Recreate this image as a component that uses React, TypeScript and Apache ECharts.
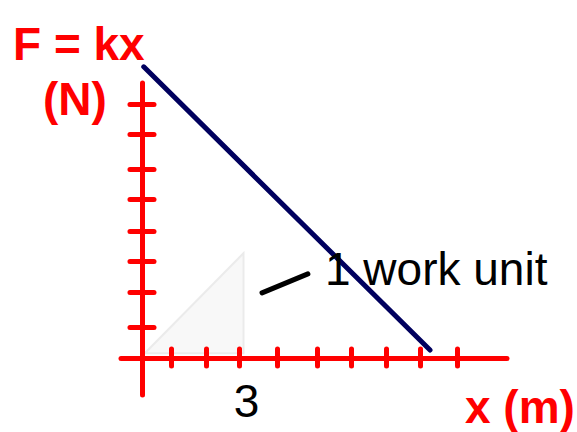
import React, { useEffect, useRef } from "react";
import * as echarts from "echarts";

// Tick positions on the axes
const xTicks = [0.83, 1.83, 2.77, 3.86, 5.0, 5.97, 6.97, 7.94, 9.0];
const yTicks = [0.98, 2.08, 3.06, 4.0, 5.01, 5.95, 7.06, 8.0];

// Axis extents (data units)
const xRange = [-0.6, 10.43];
const yRange = [-1.165, 8.66];

// F = kx line (x in m, F in N)
const forceX = [0.05, 8.23];
const forceY = [9.17, 0.25];

// shaded "work" triangle
const triX = [0.08, 2.9, 2.9];
const triY = [0.15, 3.3, 0.15];

// pointer to the "1 work unit" label
const pointerX = [3.43, 4.74];
const pointerY = [2.05, 2.65];

// texts
const yTitle = "F = kx";
const yUnit = "(N)";
const xTitle = "x (m)";
const tickLabel = "3";
const annotation = "1 work unit";

const RED = "#ff0000";
const FONT = "'Liberation Sans', Arial, sans-serif";

export default function App() {
  const ref = useRef<HTMLDivElement>(null);

  useEffect(() => {
    document.body.style.margin = "0";
    const chart = echarts.init(ref.current!, null, { renderer: "svg" });

    const axisCommon = (min: number, max: number) => ({
      type: "value" as const,
      min,
      max,
      splitLine: { show: false },
      axisLabel: { show: false },
    });

    const tickStyle = { color: RED, width: 5, cap: "round" };

    const option: any = {
      animation: false,
      backgroundColor: "#ffffff",
      grid: { left: 121, right: 70, top: 83, bottom: 37, containLabel: false },
      xAxis: [
        {
          ...axisCommon(xRange[0], xRange[1]),
          position: "bottom",
          axisLine: {
            show: true,
            onZero: true,
            onZeroAxisIndex: 0,
            lineStyle: { color: RED, width: 5, cap: "round" },
          },
          axisTick: {
            show: true,
            inside: true,
            length: 9,
            customValues: xTicks,
            lineStyle: tickStyle,
          },
        },
        {
          ...axisCommon(xRange[0], xRange[1]),
          position: "bottom",
          axisLine: { show: false, onZero: true, onZeroAxisIndex: 0 },
          axisTick: {
            show: true,
            inside: false,
            length: 8,
            customValues: xTicks,
            lineStyle: tickStyle,
          },
        },
      ],
      yAxis: [
        {
          ...axisCommon(yRange[0], yRange[1]),
          position: "left",
          axisLine: {
            show: true,
            onZero: true,
            onZeroAxisIndex: 0,
            lineStyle: { color: RED, width: 5, cap: "round" },
          },
          axisTick: {
            show: true,
            inside: true,
            length: 12,
            customValues: yTicks,
            lineStyle: tickStyle,
          },
        },
        {
          ...axisCommon(yRange[0], yRange[1]),
          position: "left",
          axisLine: { show: false, onZero: true, onZeroAxisIndex: 0 },
          axisTick: {
            show: true,
            inside: false,
            length: 12,
            customValues: yTicks,
            lineStyle: tickStyle,
          },
        },
      ],
      series: [
        {
          type: "custom",
          z: -1,
          clip: false,
          renderItem: (_params: any, api: any) => {
            const pts = triX.map((x, i) => api.coord([x, triY[i]]));
            return {
              type: "polygon",
              shape: { points: pts },
              style: { fill: "#f8f8f8", stroke: "#ebebeb", lineWidth: 2 },
            };
          },
          data: [[0, 0]],
        },
        {
          type: "line",
          data: forceX.map((x, i) => [x, forceY[i]]),
          symbol: "none",
          clip: false,
          z: 5,
          lineStyle: { color: "#00005e", width: 5, cap: "round" },
        },
        {
          type: "line",
          data: pointerX.map((x, i) => [x, pointerY[i]]),
          symbol: "none",
          clip: false,
          z: 5,
          lineStyle: { color: "#000000", width: 5, cap: "round" },
        },
      ],
      graphic: [
        {
          type: "text",
          x: 13,
          y: 44,
          style: {
            text: yTitle,
            fill: RED,
            font: `bold 46px ${FONT}`,
            verticalAlign: "middle",
          },
        },
        {
          type: "text",
          x: 43,
          y: 99,
          style: {
            text: yUnit,
            fill: RED,
            font: `bold 46px ${FONT}`,
            verticalAlign: "middle",
          },
        },
        {
          type: "text",
          x: 465,
          y: 407,
          style: {
            text: xTitle,
            fill: RED,
            font: `bold 46px ${FONT}`,
            verticalAlign: "middle",
          },
        },
        {
          type: "text",
          x: 246.5,
          y: 401,
          style: {
            text: tickLabel,
            fill: "#000",
            font: `46px ${FONT}`,
            align: "center",
            verticalAlign: "middle",
          },
        },
        {
          type: "text",
          x: 325,
          y: 269,
          z: 10,
          style: {
            text: annotation,
            fill: "#000",
            font: `46px ${FONT}`,
            verticalAlign: "middle",
          },
        },
      ],
    };

    chart.setOption(option);
    return () => chart.dispose();
  }, []);

  return (
    <div
      ref={ref}
      style={{ position: "fixed", left: 0, top: 0, width: 577, height: 432 }}
    />
  );
}
